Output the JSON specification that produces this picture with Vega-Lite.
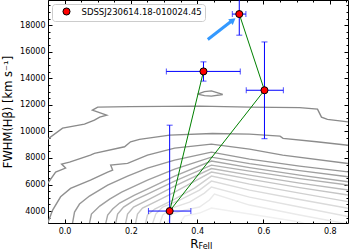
{
  "$schema": "https://vega.github.io/schema/vega-lite/v6.json",
  "width": 300,
  "height": 223,
  "autosize": {"type": "none"},
  "padding": {"left": 48, "top": 0, "right": 1, "bottom": 28},
  "config": {
    "view": {"stroke": "#000000", "strokeWidth": 1},
    "font": "DejaVu Sans",
    "axis": {"grid": false, "domain": false, "labelFont": "DejaVu Sans", "titleFont": "DejaVu Sans", "labelColor": "#000000", "titleColor": "#000000", "tickColor": "#000000", "tickWidth": 1, "titleFontWeight": "normal"},
    "legend": {"labelFont": "DejaVu Sans"}
  },
  "datasets": {
    "contours": [
      {"c":"c0","i":1,"x":0.401,"y":12807},{"c":"c0","i":2,"x":0.422,"y":12995},{"c":"c0","i":3,"x":0.443,"y":13055},{"c":"c0","i":4,"x":0.477,"y":12785},{"c":"c0","i":5,"x":0.443,"y":12656},{"c":"c0","i":6,"x":0.422,"y":12694},{"c":"c0","i":7,"x":0.401,"y":12807},
      {"c":"c1","i":1,"x":-0.06,"y":9250},{"c":"c1","i":2,"x":-0.006,"y":10247},{"c":"c1","i":3,"x":0.060,"y":10548},{"c":"c1","i":4,"x":0.090,"y":10850},{"c":"c1","i":5,"x":0.106,"y":11075},{"c":"c1","i":6,"x":0.127,"y":11226},{"c":"c1","i":7,"x":0.084,"y":11602},{"c":"c1","i":8,"x":0.100,"y":11828},{"c":"c1","i":9,"x":0.196,"y":11865},{"c":"c1","i":10,"x":0.407,"y":11903},{"c":"c1","i":11,"x":0.558,"y":11828},{"c":"c1","i":12,"x":0.709,"y":11790},{"c":"c1","i":13,"x":0.763,"y":11678},{"c":"c1","i":14,"x":0.775,"y":11075},{"c":"c1","i":15,"x":0.793,"y":10903},{"c":"c1","i":16,"x":0.86,"y":10700},
      {"c":"c2","i":1,"x":-0.056,"y":5900},{"c":"c2","i":2,"x":-0.027,"y":6935},{"c":"c2","i":3,"x":0.003,"y":7237},{"c":"c2","i":4,"x":-0.009,"y":7538},{"c":"c2","i":5,"x":0.015,"y":7688},{"c":"c2","i":6,"x":0.078,"y":8215},{"c":"c2","i":7,"x":0.090,"y":8343},{"c":"c2","i":8,"x":0.181,"y":8840},{"c":"c2","i":9,"x":0.199,"y":9216},{"c":"c2","i":10,"x":0.226,"y":9397},{"c":"c2","i":11,"x":0.317,"y":9720},{"c":"c2","i":12,"x":0.446,"y":9848},{"c":"c2","i":13,"x":0.558,"y":9796},{"c":"c2","i":14,"x":0.650,"y":9645},{"c":"c2","i":15,"x":0.659,"y":9472},{"c":"c2","i":16,"x":0.760,"y":9216},{"c":"c2","i":17,"x":0.86,"y":8950},
      {"c":"c3","i":1,"x":-0.053,"y":2950},{"c":"c3","i":2,"x":-0.036,"y":4075},{"c":"c3","i":3,"x":-0.012,"y":5076},{"c":"c3","i":4,"x":0.018,"y":5709},{"c":"c3","i":5,"x":0.078,"y":6333},{"c":"c3","i":6,"x":0.130,"y":6935},{"c":"c3","i":7,"x":0.145,"y":7086},{"c":"c3","i":8,"x":0.139,"y":7462},{"c":"c3","i":9,"x":0.190,"y":7590},{"c":"c3","i":10,"x":0.250,"y":8215},{"c":"c3","i":11,"x":0.332,"y":8742},{"c":"c3","i":12,"x":0.443,"y":9043},{"c":"c3","i":13,"x":0.558,"y":8667},{"c":"c3","i":14,"x":0.658,"y":8215},{"c":"c3","i":15,"x":0.86,"y":7570},
      {"c":"c4","i":1,"x":0.023,"y":2950},{"c":"c4","i":2,"x":0.030,"y":3925},{"c":"c4","i":3,"x":0.045,"y":4527},{"c":"c4","i":4,"x":0.075,"y":5129},{"c":"c4","i":5,"x":0.130,"y":5957},{"c":"c4","i":6,"x":0.190,"y":6634},{"c":"c4","i":7,"x":0.250,"y":7237},{"c":"c4","i":8,"x":0.332,"y":7839},{"c":"c4","i":9,"x":0.443,"y":8441},{"c":"c4","i":10,"x":0.558,"y":7914},{"c":"c4","i":11,"x":0.709,"y":7387},{"c":"c4","i":12,"x":0.86,"y":6940},
      {"c":"c5","i":1,"x":0.074,"y":2950},{"c":"c5","i":2,"x":0.081,"y":3774},{"c":"c5","i":3,"x":0.106,"y":4376},{"c":"c5","i":4,"x":0.136,"y":4903},{"c":"c5","i":5,"x":0.172,"y":5430},{"c":"c5","i":6,"x":0.250,"y":6333},{"c":"c5","i":7,"x":0.332,"y":7161},{"c":"c5","i":8,"x":0.443,"y":8065},{"c":"c5","i":9,"x":0.558,"y":7575},{"c":"c5","i":10,"x":0.709,"y":7048},{"c":"c5","i":11,"x":0.86,"y":6570},
      {"c":"c6","i":1,"x":0.123,"y":2950},{"c":"c6","i":2,"x":0.130,"y":3699},{"c":"c6","i":3,"x":0.145,"y":4151},{"c":"c6","i":4,"x":0.166,"y":4602},{"c":"c6","i":5,"x":0.211,"y":5204},{"c":"c6","i":6,"x":0.250,"y":5656},{"c":"c6","i":7,"x":0.332,"y":6634},{"c":"c6","i":8,"x":0.443,"y":7764},{"c":"c6","i":9,"x":0.558,"y":7274},{"c":"c6","i":10,"x":0.709,"y":6710},{"c":"c6","i":11,"x":0.86,"y":6190},
      {"c":"c7","i":1,"x":0.153,"y":2950},{"c":"c7","i":2,"x":0.160,"y":3774},{"c":"c7","i":3,"x":0.178,"y":4301},{"c":"c7","i":4,"x":0.211,"y":4828},{"c":"c7","i":5,"x":0.250,"y":5280},{"c":"c7","i":6,"x":0.332,"y":6258},{"c":"c7","i":7,"x":0.443,"y":7462},{"c":"c7","i":8,"x":0.558,"y":7011},{"c":"c7","i":9,"x":0.709,"y":6446},{"c":"c7","i":10,"x":0.86,"y":5945},
      {"c":"c8","i":1,"x":0.183,"y":2950},{"c":"c8","i":2,"x":0.190,"y":3774},{"c":"c8","i":3,"x":0.208,"y":4301},{"c":"c8","i":4,"x":0.250,"y":4828},{"c":"c8","i":5,"x":0.332,"y":5882},{"c":"c8","i":6,"x":0.443,"y":7199},{"c":"c8","i":7,"x":0.558,"y":6710},{"c":"c8","i":8,"x":0.709,"y":6108},{"c":"c8","i":9,"x":0.86,"y":5570},
      {"c":"c9","i":1,"x":0.213,"y":2950},{"c":"c9","i":2,"x":0.220,"y":3774},{"c":"c9","i":3,"x":0.235,"y":4226},{"c":"c9","i":4,"x":0.272,"y":4677},{"c":"c9","i":5,"x":0.332,"y":5430},{"c":"c9","i":6,"x":0.443,"y":6935},{"c":"c9","i":7,"x":0.558,"y":6409},{"c":"c9","i":8,"x":0.709,"y":5769},{"c":"c9","i":9,"x":0.86,"y":5190},
      {"c":"c10","i":1,"x":0.243,"y":2950},{"c":"c10","i":2,"x":0.250,"y":3699},{"c":"c10","i":3,"x":0.272,"y":4151},{"c":"c10","i":4,"x":0.332,"y":4903},{"c":"c10","i":5,"x":0.392,"y":5731},{"c":"c10","i":6,"x":0.443,"y":6634},{"c":"c10","i":7,"x":0.558,"y":6032},{"c":"c10","i":8,"x":0.709,"y":5355},{"c":"c10","i":9,"x":0.86,"y":4690},
      {"c":"c11","i":1,"x":0.264,"y":2950},{"c":"c11","i":2,"x":0.275,"y":3774},{"c":"c11","i":3,"x":0.296,"y":4301},{"c":"c11","i":4,"x":0.347,"y":4828},{"c":"c11","i":5,"x":0.407,"y":5581},{"c":"c11","i":6,"x":0.443,"y":6258},{"c":"c11","i":7,"x":0.558,"y":5581},{"c":"c11","i":8,"x":0.709,"y":4866},{"c":"c11","i":9,"x":0.86,"y":4190},
      {"c":"c12","i":1,"x":0.286,"y":2950},{"c":"c12","i":2,"x":0.296,"y":3699},{"c":"c12","i":3,"x":0.323,"y":4226},{"c":"c12","i":4,"x":0.377,"y":4677},{"c":"c12","i":5,"x":0.422,"y":5355},{"c":"c12","i":6,"x":0.443,"y":5806},{"c":"c12","i":7,"x":0.558,"y":5054},{"c":"c12","i":8,"x":0.709,"y":4301},{"c":"c12","i":9,"x":0.86,"y":3560},
      {"c":"c13","i":1,"x":0.307,"y":2950},{"c":"c13","i":2,"x":0.323,"y":3774},{"c":"c13","i":3,"x":0.362,"y":4075},{"c":"c13","i":4,"x":0.407,"y":4301},{"c":"c13","i":5,"x":0.437,"y":4828},{"c":"c13","i":6,"x":0.452,"y":5280},{"c":"c13","i":7,"x":0.558,"y":4452},{"c":"c13","i":8,"x":0.709,"y":3699},{"c":"c13","i":9,"x":0.86,"y":3000},
      {"c":"c14","i":1,"x":0.345,"y":2950},{"c":"c14","i":2,"x":0.362,"y":3624},{"c":"c14","i":3,"x":0.407,"y":3849},{"c":"c14","i":4,"x":0.443,"y":4226},{"c":"c14","i":5,"x":0.558,"y":3774},{"c":"c14","i":6,"x":0.709,"y":3172},{"c":"c14","i":7,"x":0.73,"y":3000}
    ],
    "pts": [
      {"name":"SDSSJ230614.18-010024.45","ord":1,"x":0.419,"y":14520,"xlo":0.307,"xhi":0.530,"ylo":13790,"yhi":15240},
      {"name":"SDSSJ230614.18-010024.45","ord":2,"x":0.317,"y":4000,"xlo":0.253,"xhi":0.381,"ylo":-2470,"yhi":10470},
      {"name":"SDSSJ230614.18-010024.45","ord":3,"x":0.603,"y":13100,"xlo":0.548,"xhi":0.660,"ylo":9450,"yhi":16740},
      {"name":"SDSSJ230614.18-010024.45","ord":4,"x":0.527,"y":18840,"xlo":0.506,"xhi":0.547,"ylo":17250,"yhi":20430}
    ],
    "arrow": [
      {"x":0.432,"y":16924,"x2":0.501,"y2":18264,"hx":0.508,"hy":18377}
    ]
  },
  "layer": [
    {
      "data": {"name": "contours"},
      "mark": {"type": "line", "clip": true, "strokeWidth": 1.4},
      "encoding": {
        "x": {"field": "x", "type": "quantitative", "scale": {"domain": [-0.05, 0.855], "nice": false, "zero": false},
          "axis": {"orient": "bottom", "values": [0, 0.2, 0.4, 0.6, 0.8], "format": ".1f", "ticks": false, "labelPadding": 4, "labelFontSize": 8, "title": "R", "titleFontSize": 12, "titleY": 24, "titleBaseline": "alphabetic", "titleAnchor": "middle", "titleAlign": "right"}},
        "y": {"field": "y", "type": "quantitative", "scale": {"domain": [3100, 19900], "nice": false, "zero": false},
          "axis": {"orient": "left", "values": [4000, 6000, 8000, 10000, 12000, 14000, 16000, 18000], "format": "d", "ticks": false, "labelPadding": 3, "labelFontSize": 8, "title": "FWHM(Hβ) [km s⁻¹]", "titleFontSize": 11.5, "titlePadding": 6}},
        "stroke": {"field": "c", "type": "nominal", "legend": null,
          "scale": {"domain": ["c0","c1","c2","c3","c4","c5","c6","c7","c8","c9","c10","c11","c12","c13","c14"],
                    "range": ["#8a8a8a","#8a8a8a","#8c8c8c","#909090","#979797","#9f9f9f","#a7a7a7","#b0b0b0","#bababa","#c5c5c5","#d0d0d0","#dadada","#e2e2e2","#eaeaea","#f0f0f0"]}},
        "order": {"field": "i", "type": "quantitative"}
      }
    },
    {
      "data": {"name": "pts"},
      "mark": {"type": "rule", "color": "#0000ff", "strokeWidth": 1, "clip": true},
      "encoding": {
        "x": {"field": "xlo", "type": "quantitative", "scale": {"domain": [-0.05, 0.855], "nice": false, "zero": false},
          "axis": {"orient": "bottom", "values": [0, 0.2, 0.4, 0.6, 0.8], "labels": false, "tickSize": 4, "offset": -4, "title": null}},
        "x2": {"field": "xhi"},
        "y": {"field": "y", "type": "quantitative", "scale": {"domain": [3100, 19900], "nice": false, "zero": false},
          "axis": {"orient": "left", "values": [4000, 6000, 8000, 10000, 12000, 14000, 16000, 18000], "labels": false, "tickSize": 4, "offset": -4, "title": null}}
      }
    },
    {
      "data": {"name": "pts"},
      "mark": {"type": "rule", "color": "#0000ff", "strokeWidth": 1, "clip": true},
      "encoding": {
        "x": {"field": "x", "type": "quantitative", "scale": {"domain": [-0.05, 0.855], "nice": false, "zero": false},
          "axis": {"orient": "bottom", "values": [-0.05, 0.05, 0.1, 0.15, 0.25, 0.3, 0.35, 0.45, 0.5, 0.55, 0.65, 0.7, 0.75, 0.85], "labels": false, "tickSize": 2, "offset": -2, "title": "FeII", "titleFontSize": 8, "titleY": 27.5, "titleBaseline": "alphabetic", "titleAnchor": "middle", "titleAlign": "left"}},
        "y": {"field": "ylo", "type": "quantitative", "scale": {"domain": [3100, 19900], "nice": false, "zero": false},
          "axis": {"orient": "left", "values": [3500, 4500, 5000, 5500, 6500, 7000, 7500, 8500, 9000, 9500, 10500, 11000, 11500, 12500, 13000, 13500, 14500, 15000, 15500, 16500, 17000, 17500, 18500, 19000, 19500], "labels": false, "tickSize": 2, "offset": -2, "title": null}},
        "y2": {"field": "yhi"}
      }
    },
    {
      "data": {"name": "pts"},
      "transform": [{"fold": ["xlo", "xhi"], "as": ["k", "xv"]}],
      "mark": {"type": "tick", "orient": "vertical", "color": "#0000ff", "size": 6, "thickness": 1, "clip": true},
      "encoding": {
        "x": {"field": "xv", "type": "quantitative", "scale": {"domain": [-0.05, 0.855], "nice": false, "zero": false},
          "axis": {"orient": "top", "values": [0, 0.2, 0.4, 0.6, 0.8], "labels": false, "tickSize": 4, "offset": -4, "title": null}},
        "y": {"field": "y", "type": "quantitative", "scale": {"domain": [3100, 19900], "nice": false, "zero": false},
          "axis": {"orient": "right", "values": [4000, 6000, 8000, 10000, 12000, 14000, 16000, 18000], "labels": false, "tickSize": 4, "offset": -4, "title": null}}
      }
    },
    {
      "data": {"name": "pts"},
      "transform": [{"fold": ["ylo", "yhi"], "as": ["k", "yv"]}],
      "mark": {"type": "tick", "orient": "horizontal", "color": "#0000ff", "size": 6, "thickness": 1, "clip": true},
      "encoding": {
        "x": {"field": "x", "type": "quantitative", "scale": {"domain": [-0.05, 0.855], "nice": false, "zero": false},
          "axis": {"orient": "top", "values": [-0.05, 0.05, 0.1, 0.15, 0.25, 0.3, 0.35, 0.45, 0.5, 0.55, 0.65, 0.7, 0.75, 0.85], "labels": false, "tickSize": 2, "offset": -2, "title": null}},
        "y": {"field": "yv", "type": "quantitative", "scale": {"domain": [3100, 19900], "nice": false, "zero": false},
          "axis": {"orient": "right", "values": [3500, 4500, 5000, 5500, 6500, 7000, 7500, 8500, 9000, 9500, 10500, 11000, 11500, 12500, 13000, 13500, 14500, 15000, 15500, 16500, 17000, 17500, 18500, 19000, 19500], "labels": false, "tickSize": 2, "offset": -2, "title": null}}
      }
    },
    {
      "data": {"name": "pts"},
      "mark": {"type": "line", "color": "#008000", "strokeWidth": 1, "clip": true},
      "encoding": {
        "x": {"field": "x", "type": "quantitative", "scale": {"domain": [-0.05, 0.855], "nice": false, "zero": false}, "axis": null},
        "y": {"field": "y", "type": "quantitative", "scale": {"domain": [3100, 19900], "nice": false, "zero": false}, "axis": null},
        "order": {"field": "ord", "type": "quantitative"}
      }
    },
    {
      "data": {"name": "arrow"},
      "mark": {"type": "rule", "color": "#3399ff", "strokeWidth": 3, "clip": true},
      "encoding": {
        "x": {"field": "x", "type": "quantitative", "scale": {"domain": [-0.05, 0.855], "nice": false, "zero": false}, "axis": null},
        "y": {"field": "y", "type": "quantitative", "scale": {"domain": [3100, 19900], "nice": false, "zero": false}, "axis": null},
        "x2": {"field": "x2"},
        "y2": {"field": "y2"}
      }
    },
    {
      "data": {"name": "arrow"},
      "mark": {"type": "point", "shape": "triangle-up", "filled": true, "color": "#3399ff", "size": 55, "angle": 52, "opacity": 1, "clip": true},
      "encoding": {
        "x": {"field": "hx", "type": "quantitative", "scale": {"domain": [-0.05, 0.855], "nice": false, "zero": false}, "axis": null},
        "y": {"field": "hy", "type": "quantitative", "scale": {"domain": [3100, 19900], "nice": false, "zero": false}, "axis": null}
      }
    },
    {
      "data": {"name": "pts"},
      "mark": {"type": "point", "shape": "circle", "filled": true, "size": 50, "stroke": "#000000", "strokeWidth": 1, "opacity": 1},
      "encoding": {
        "x": {"field": "x", "type": "quantitative", "scale": {"domain": [-0.05, 0.855], "nice": false, "zero": false}, "axis": null},
        "y": {"field": "y", "type": "quantitative", "scale": {"domain": [3100, 19900], "nice": false, "zero": false}, "axis": null},
        "fill": {"field": "name", "type": "nominal", "scale": {"domain": ["SDSSJ230614.18-010024.45"], "range": ["#ff0000"]},
          "legend": {"title": null, "orient": "top-left", "offset": 4, "padding": 3, "symbolOffset": 7, "labelOffset": 10.5, "labelFontSize": 8.5, "labelColor": "#000000", "symbolSize": 50, "symbolType": "circle", "symbolStrokeColor": "#000000", "symbolStrokeWidth": 1, "strokeColor": "#cccccc", "fillColor": "#ffffff", "cornerRadius": 3}}
      }
    }
  ],
  "resolve": {"axis": {"x": "independent", "y": "independent"}}
}
